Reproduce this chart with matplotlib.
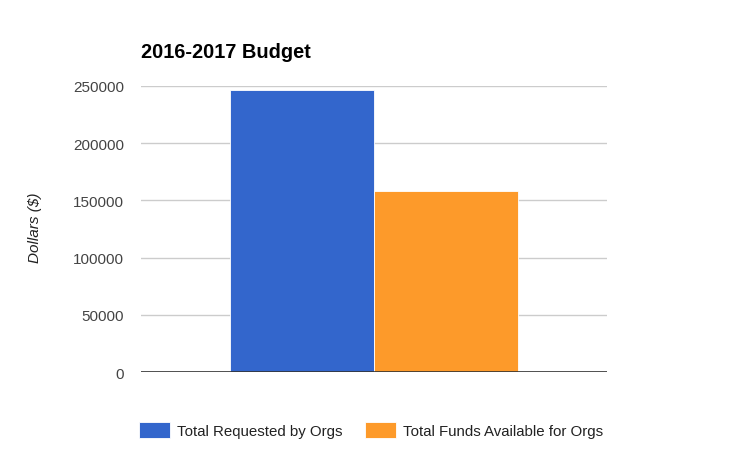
import numpy as np
import matplotlib
matplotlib.use("Agg")
import matplotlib.pyplot as plt

plt.rcParams['font.family'] = ['Liberation Sans', 'DejaVu Sans']

# Daten
series = ["Total Requested by Orgs", "Total Funds Available for Orgs"]
values = [246000, 158000]
colors = ['#3366cc', '#fd9a2a']
yticks = [0, 50000, 100000, 150000, 200000, 250000]

fig = plt.figure(figsize=(7.46, 4.6), dpi=100)
ax = fig.add_axes([0.189, 0.1885, 0.6247, 0.623])

w = 0.62
offsets = [-w / 2, w / 2]
for i in range(len(series)):
    ax.bar(offsets[i], values[i], width=w, color=colors[i], edgecolor='white',
           linewidth=0.6, label=series[i], zorder=3)

ax.set_xlim(-1, 1)
ax.set_ylim(0, 250000)
ax.set_yticks(yticks)
ax.set_yticklabels([str(t) for t in yticks], fontsize=11, color='#444444')
ax.set_xticks([])
ax.tick_params(axis='y', length=0, pad=12)
ax.grid(axis='y', color='#cccccc', linewidth=1, zorder=0)
for s in ax.spines.values():
    s.set_visible(False)
ax.axhline(0, color='#333333', linewidth=1.2, zorder=4)

# Achsenbeschriftung und Titel
fig.text(35 / 746, 1 - 228 / 460, 'Dollars ($)', fontsize=11, style='italic',
         color='#222222', rotation=90, ha='center', va='center')
fig.text(141 / 746, 1 - 52 / 460, '2016-2017 Budget', fontsize=14.4, fontweight='bold',
         va='center', ha='left', color='#000000')

leg = fig.legend(loc='center left', bbox_to_anchor=(125 / 746, 1 - 431 / 460), ncol=2,
                 frameon=False, fontsize=10.8, handlelength=2.07, handleheight=1.3,
                 handletextpad=0.47, columnspacing=1.55, labelcolor='#222222')

fig.savefig('out.png', dpi=100)
